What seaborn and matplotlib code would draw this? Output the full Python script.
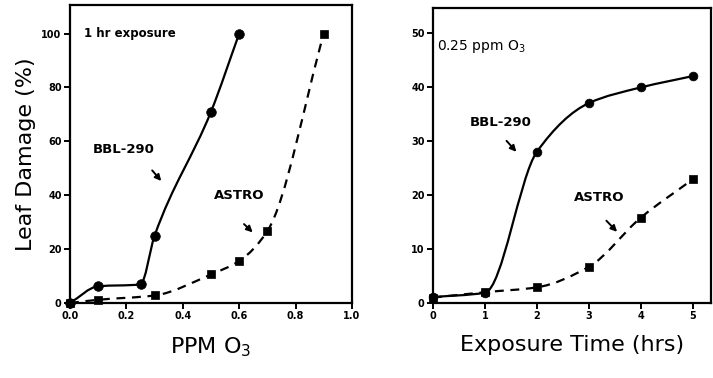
import matplotlib
matplotlib.use("Agg")
import matplotlib.pyplot as plt
from matplotlib.path import Path
from matplotlib.patches import PathPatch
import numpy as np
import pandas as pd
import seaborn as sns


# -----------------------------
# DATA
# -----------------------------
ppm_bbl = [0.0, 0.1, 0.25, 0.3, 0.5, 0.6]
dmg_bbl_ppm = [0, 6.2, 6.9, 25, 71, 100]
ppm_astro = [0.0, 0.1, 0.3, 0.5, 0.6, 0.7, 0.9]
dmg_astro_ppm = [0, 1.2, 2.8, 10.6, 15.6, 26.7, 100]

hrs = [0, 1, 2, 3, 4, 5]
dmg_bbl_hrs = [1.1, 1.9, 28.0, 37.0, 39.9, 42.0]
dmg_astro_hrs = [1.0, 2.0, 2.9, 6.7, 15.8, 22.9]

left_xticks = [0.0, 0.2, 0.4, 0.6, 0.8, 1.0]
left_yticks = [0, 20, 40, 60, 80, 100]
right_xticks = [0, 1, 2, 3, 4, 5]
right_yticks = [0, 10, 20, 30, 40, 50]


# -----------------------------
# CONFIG
# -----------------------------
sns.set_style("ticks")
plt.rcParams["font.family"] = ["DejaVu Sans"]
plt.rcParams["axes.linewidth"] = 1.6
plt.rcParams["axes.edgecolor"] = "black"
plt.rcParams["text.color"] = "black"
plt.rcParams["axes.labelcolor"] = "black"
plt.rcParams["xtick.color"] = "black"
plt.rcParams["ytick.color"] = "black"
plt.rcParams["xtick.major.width"] = 1.4
plt.rcParams["ytick.major.width"] = 1.4
plt.rcParams["xtick.major.size"] = 4
plt.rcParams["ytick.major.size"] = 4


def smooth_path(x, y):
    # monotone cubic (Fritsch-Carlson) drawn as bezier segments
    x = np.asarray(x, float)
    y = np.asarray(y, float)
    h = np.diff(x)
    d = np.diff(y) / h
    m = np.zeros_like(y)
    m[0], m[-1] = d[0], d[-1]
    for i in range(1, len(x) - 1):
        if d[i - 1] * d[i] <= 0:
            m[i] = 0
        else:
            w1 = 2 * h[i] + h[i - 1]
            w2 = h[i] + 2 * h[i - 1]
            m[i] = (w1 + w2) / (w1 / d[i - 1] + w2 / d[i])
    verts = [(x[0], y[0])]
    codes = [Path.MOVETO]
    for i in range(len(x) - 1):
        verts += [
            (x[i] + h[i] / 3, y[i] + m[i] * h[i] / 3),
            (x[i + 1] - h[i] / 3, y[i + 1] - m[i + 1] * h[i] / 3),
            (x[i + 1], y[i + 1]),
        ]
        codes += [Path.CURVE4] * 3
    return Path(verts, codes)


def draw_series(ax, x, y, marker, dashed, size):
    patch = PathPatch(
        smooth_path(x, y), facecolor="none", edgecolor="black",
        lw=1.6, linestyle=(0, (4, 3)) if dashed else "-",
        transform=ax.transData, zorder=2,
    )
    ax.add_patch(patch)
    df = pd.DataFrame({"x": x, "y": y})
    sns.scatterplot(
        data=df, x="x", y="y", ax=ax, marker=marker,
        color="black", s=size, edgecolor="black", linewidth=0.5,
        zorder=3, clip_on=False,
    )


def arrow(ax, start, end):
    ax.annotate(
        "", xy=end, xytext=start,
        arrowprops=dict(arrowstyle="-|>", color="black", lw=1.4,
                        mutation_scale=9),
    )


def style_axes(ax, xticks, yticks, xfmt):
    ax.set_xticks(xticks)
    ax.set_yticks(yticks)
    ax.set_xticklabels([xfmt(v) for v in xticks], fontsize=7,
                       fontweight="bold")
    ax.set_yticklabels([str(v) for v in yticks], fontsize=7,
                       fontweight="bold")
    ax.tick_params(direction="out", pad=2)
    for s in ax.spines.values():
        s.set_visible(True)


# -----------------------------
# FIGURE
# -----------------------------
fig = plt.figure(figsize=(7.13, 3.78), dpi=100)
ax1 = fig.add_axes([70 / 713, 1 - 303 / 378, 282 / 713, 298 / 378])
ax2 = fig.add_axes([433 / 713, 1 - 303 / 378, 278 / 713, 295 / 378])

# left panel: dose response
draw_series(ax1, ppm_bbl, dmg_bbl_ppm, "o", False, 48)
draw_series(ax1, ppm_astro, dmg_astro_ppm, "s", True, 34)
ax1.set_xlim(0, 0.99)
ax1.set_ylim(0, 110.6)
style_axes(ax1, left_xticks, left_yticks, lambda v: f"{v:.1f}")
ax1.set_xlabel("PPM O$_3$", fontsize=16, labelpad=10)
ax1.set_ylabel("Leaf Damage (%)", fontsize=16, labelpad=4)
ax1.text(0.05, 100, "1 hr exposure", fontsize=8.5, fontweight="bold",
         va="center", ha="left")
ax1.text(0.19, 56.8, "BBL-290", fontsize=9.5, fontweight="bold",
         ha="center", va="center")
arrow(ax1, (0.285, 50), (0.33, 44.5))
ax1.text(0.6, 40, "ASTRO", fontsize=9.5, fontweight="bold",
         ha="center", va="center")
arrow(ax1, (0.61, 30), (0.655, 25.5))

# right panel: time course
draw_series(ax2, hrs, dmg_bbl_hrs, "o", False, 40)
draw_series(ax2, hrs, dmg_astro_hrs, "s", True, 30)
ax2.set_xlim(0, 5.35)
ax2.set_ylim(0, 54.6)
style_axes(ax2, right_xticks, right_yticks, lambda v: str(v))
ax2.set_xlabel("Exposure Time (hrs)", fontsize=16, labelpad=10)
ax2.set_ylabel("")
ax2.text(0.07, 47.4, "0.25 ppm O$_3$", fontsize=10, ha="left",
         va="center")
ax2.text(1.31, 33.5, "BBL-290", fontsize=9.5, fontweight="bold",
         ha="center", va="center")
arrow(ax2, (1.38, 30.4), (1.64, 27.6))
ax2.text(3.2, 19.6, "ASTRO", fontsize=9.5, fontweight="bold",
         ha="center", va="center")
arrow(ax2, (3.3, 15.6), (3.58, 12.8))

fig.savefig("out.png", dpi=100)
plt.close(fig)
